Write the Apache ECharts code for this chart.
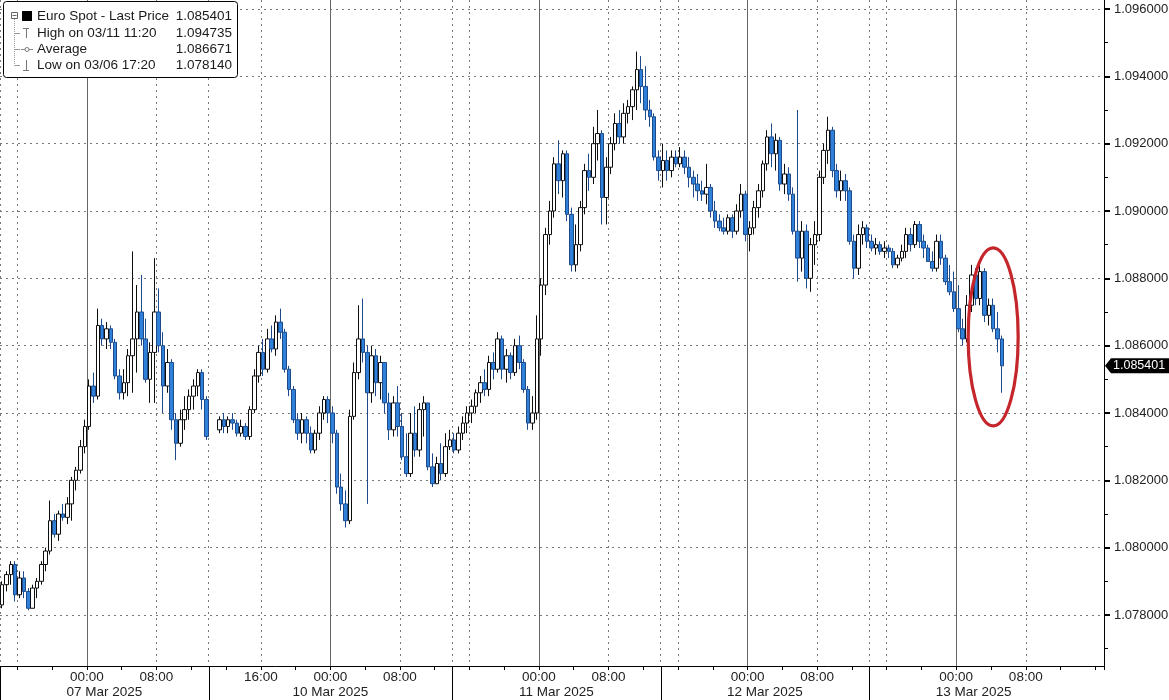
<!DOCTYPE html>
<html><head><meta charset="utf-8">
<script src="https://cdn.jsdelivr.net/npm/echarts@6/dist/echarts.min.js"></script>
<style>html,body{margin:0;padding:0;background:#fff}#c{width:1169px;height:700px}</style>
</head><body><div id="c"></div>
<script>
// 30-minute candles [open, close, low, high], EUR/USD spot
const seg07 = [
[1.0783,1.0789,1.0782,1.0790],[1.0789,1.0792,1.0787,1.0793],[1.0792,1.0795,1.0789,1.0796],[1.0795,1.0786,1.0784,1.0796],
[1.0786,1.0791,1.0785,1.0793],[1.0791,1.0787,1.0785,1.0793],[1.0787,1.0782,1.07814,1.0788],[1.0782,1.0788,1.0782,1.0789],
[1.0788,1.0790,1.0785,1.0791],[1.0790,1.0795,1.0789,1.0796],[1.0795,1.0799,1.0793,1.0800],[1.0799,1.0808,1.0798,1.0814],
[1.0808,1.0804,1.0803,1.0810],[1.0804,1.0810,1.0802,1.0811],[1.0810,1.0809,1.0808,1.0813],[1.0809,1.0813,1.0807,1.0815],
[1.0813,1.0820,1.0808,1.0821],[1.0820,1.0823,1.0817,1.0824],[1.0823,1.0830,1.0822,1.0832],[1.0830,1.0836,1.0828,1.0838],
[1.0836,1.0848,1.0835,1.0850],[1.0848,1.0845,1.0843,1.0852],[1.0845,1.0866,1.0844,1.0871],[1.0866,1.0862,1.0860,1.0868],
[1.0862,1.0865,1.0859,1.0867],[1.0865,1.0861,1.0859,1.0866],[1.0861,1.0851,1.0850,1.0862],[1.0851,1.0846,1.0844,1.0853],
[1.0846,1.0849,1.0844,1.0853],[1.0849,1.0857,1.0845,1.0859],[1.0857,1.0862,1.0846,1.0888],[1.0862,1.0870,1.0852,1.0878],
[1.0870,1.0862,1.0860,1.0881],[1.0862,1.0850,1.0849,1.0868],[1.0850,1.0858,1.0843,1.0861],[1.0858,1.0870,1.0843,1.0886],
[1.0870,1.0860,1.0858,1.0877],[1.0860,1.0848,1.0840,1.0864],[1.0848,1.0855,1.0846,1.0859],[1.0855,1.0838,1.0835,1.0856],
[1.0838,1.0831,1.0826,1.0840],[1.0831,1.0838,1.0830,1.0841],[1.0838,1.0841,1.0835,1.0845],[1.0841,1.0845,1.0838,1.0847],
[1.0845,1.0848,1.0841,1.0850],[1.0848,1.0852,1.0845,1.0853],[1.0852,1.0844,1.0841,1.0853],[1.0844,1.0833,1.0832,1.0845]
];
const seg10 = [
[1.0835,1.0838,1.0834,1.0839],[1.0838,1.0836,1.0834,1.0840],[1.0836,1.0838,1.0834,1.0839],[1.0838,1.0837,1.0835,1.0840],
[1.0837,1.0834,1.0833,1.0838],[1.0834,1.0836,1.0833,1.0838],[1.0836,1.0833,1.0832,1.0837],[1.0833,1.0841,1.0832,1.0842],
[1.0841,1.0851,1.0840,1.0853],[1.0851,1.0858,1.0849,1.0860],[1.0858,1.0853,1.0851,1.0862],[1.0853,1.0862,1.0852,1.0865],
[1.0862,1.0859,1.0858,1.0866],[1.0859,1.0867,1.0857,1.0869],[1.0867,1.0864,1.0862,1.0871],[1.0864,1.0853,1.0852,1.0865],
[1.0853,1.0847,1.0845,1.0854],[1.0847,1.0838,1.0837,1.0848],[1.0838,1.0834,1.0832,1.0840],[1.0834,1.0838,1.0831,1.0840],
[1.0838,1.0834,1.0831,1.0839],[1.0834,1.0829,1.0828,1.0836],[1.0829,1.0834,1.0828,1.0835],[1.0834,1.0840,1.0832,1.0842],
[1.0840,1.0844,1.0838,1.0845],[1.0844,1.0840,1.0837,1.0845],[1.0840,1.0834,1.0831,1.0842],[1.0834,1.0818,1.0816,1.0835],
[1.0818,1.0813,1.0811,1.0822],[1.0813,1.0808,1.0806,1.0817],[1.0808,1.0839,1.0807,1.0841],[1.0839,1.0852,1.0838,1.0855],
[1.0852,1.0862,1.0850,1.0872],[1.0862,1.0858,1.0855,1.0874],[1.0858,1.0846,1.0813,1.0860],[1.0846,1.0857,1.0843,1.0860],
[1.0857,1.0849,1.0845,1.0859],[1.0849,1.0855,1.0844,1.0857],[1.0855,1.0843,1.0840,1.0855],[1.0843,1.0835,1.0832,1.0846],
[1.0835,1.0843,1.0833,1.0845],[1.0843,1.0836,1.0833,1.0848],[1.0836,1.0827,1.0826,1.0840],[1.0827,1.0822,1.0821,1.0834],
[1.0822,1.0834,1.0821,1.0840],[1.0834,1.0829,1.0827,1.0842],[1.0829,1.0841,1.0827,1.0843],[1.0841,1.0843,1.0833,1.0845],
[1.0843,1.0824,1.0823,1.0843],[1.0824,1.0819,1.0818,1.0828],[1.0819,1.0825,1.0819,1.0827],[1.0825,1.0822,1.0820,1.0831],
[1.0822,1.0830,1.0821,1.0834],[1.0830,1.0832,1.0829,1.0835]
];
const seg11 = [
[1.0832,1.0829,1.0828,1.0834],[1.0829,1.0834,1.0828,1.0836],[1.0834,1.0837,1.0832,1.0839],[1.0837,1.0840,1.0834,1.0842],
[1.0840,1.0842,1.0837,1.0844],[1.0842,1.0846,1.0840,1.0847],[1.0846,1.0849,1.0843,1.0851],[1.0849,1.0847,1.0845,1.0853],
[1.0847,1.0855,1.0845,1.0857],[1.0855,1.0853,1.0850,1.0858],[1.0853,1.0862,1.0852,1.0864],[1.0862,1.0853,1.0850,1.0863],
[1.0853,1.0857,1.0849,1.0859],[1.0857,1.0852,1.0850,1.0858],[1.0852,1.0860,1.0851,1.0862],[1.0860,1.0855,1.0853,1.0863],
[1.0855,1.0847,1.0846,1.0856],[1.0847,1.0837,1.0835,1.0848],[1.0837,1.0840,1.0835,1.0845],[1.0840,1.0862,1.0838,1.0869],
[1.0862,1.0878,1.0857,1.0880],[1.0878,1.0893,1.0875,1.0895],[1.0893,1.0900,1.0890,1.0903],[1.0900,1.0914,1.0898,1.0916],
[1.0914,1.0909,1.0905,1.0921],[1.0909,1.0917,1.0904,1.0918],[1.0917,1.0899,1.0897,1.0918],[1.0899,1.0884,1.0882,1.0901],
[1.0884,1.0890,1.0882,1.0896],[1.0890,1.0901,1.0888,1.0903],[1.0901,1.0912,1.0899,1.0914],[1.0912,1.0910,1.0906,1.0917],
[1.0910,1.0920,1.0908,1.0925],[1.0920,1.0923,1.0915,1.0930],[1.0923,1.0904,1.0896,1.0924],[1.0904,1.0913,1.0896,1.0916],
[1.0913,1.0920,1.0911,1.0922],[1.0920,1.0926,1.0918,1.0929],[1.0926,1.0922,1.0920,1.0930],[1.0922,1.0929,1.0920,1.0932],
[1.0929,1.0931,1.0926,1.0933],[1.0931,1.0936,1.0927,1.0937],[1.0936,1.0942,1.0930,1.094735],[1.0942,1.0937,1.0932,1.0946],
[1.0937,1.0930,1.0927,1.0943],[1.0930,1.0928,1.0925,1.0933],[1.0928,1.0916,1.0915,1.0929],[1.0916,1.0912,1.0909,1.0918]
];
const seg12 = [
[1.0912,1.0915,1.0907,1.0920],[1.0915,1.0912,1.0909,1.0918],[1.0912,1.0916,1.0910,1.0918],[1.0916,1.0914,1.0913,1.0918],
[1.0914,1.0916,1.0913,1.0919],[1.0916,1.0913,1.0911,1.0918],[1.0913,1.0910,1.0907,1.0916],[1.0910,1.0908,1.0904,1.0912],
[1.0908,1.0906,1.0903,1.0911],[1.0906,1.0905,1.0903,1.0909],[1.0905,1.0907,1.0902,1.0914],[1.0907,1.0900,1.0898,1.0908],
[1.0900,1.0897,1.0895,1.0903],[1.0897,1.0895,1.0894,1.0899],[1.0895,1.0894,1.0893,1.0898],[1.0894,1.0898,1.0893,1.0899],
[1.0898,1.0894,1.0892,1.0899],[1.0894,1.0900,1.0893,1.0902],[1.0900,1.0905,1.0898,1.0908],[1.0905,1.0893,1.0891,1.0906],
[1.0893,1.0895,1.0888,1.0897],[1.0895,1.0901,1.0893,1.0903],[1.0901,1.0906,1.0898,1.0908],[1.0906,1.0914,1.0904,1.0915],
[1.0914,1.0922,1.0912,1.0924],[1.0922,1.0917,1.0913,1.0926],[1.0917,1.0921,1.0912,1.0923],[1.0921,1.0908,1.0906,1.0922],
[1.0908,1.0911,1.0905,1.0914],[1.0911,1.0905,1.0903,1.0913],[1.0905,1.0894,1.0893,1.0907],[1.0894,1.0886,1.0879,1.0930],
[1.0886,1.0894,1.0882,1.0897],[1.0894,1.0880,1.0877,1.0896],[1.0880,1.0890,1.0876,1.0892],[1.0890,1.0893,1.0884,1.0897],
[1.0893,1.0910,1.0891,1.0912],[1.0910,1.0918,1.0908,1.0920],[1.0918,1.0924,1.0914,1.0928],[1.0924,1.0912,1.0910,1.0925],
[1.0912,1.0906,1.0904,1.0914],[1.0906,1.0909,1.0903,1.0912],[1.0909,1.0906,1.0903,1.0911],[1.0906,1.0891,1.0890,1.0907],
[1.0891,1.0883,1.0880,1.0893],[1.0883,1.0893,1.0881,1.0896],[1.0893,1.0895,1.0890,1.0897],[1.0895,1.0891,1.0889,1.0896]
];
const seg13 = [
[1.0891,1.0889,1.0888,1.0893],[1.0889,1.0890,1.0887,1.0892],[1.0890,1.0888,1.0887,1.0891],[1.0888,1.0889,1.0886,1.0891],
[1.0889,1.0888,1.0886,1.0890],[1.0888,1.0884,1.0883,1.0889],[1.0884,1.0886,1.0883,1.0887],[1.0886,1.0888,1.0885,1.0890],
[1.0888,1.0893,1.0886,1.0895],[1.0893,1.0890,1.0888,1.0895],[1.0890,1.0896,1.0889,1.0897],[1.0896,1.0891,1.0889,1.0897],
[1.0891,1.0889,1.0886,1.0893],[1.0889,1.0885,1.0885,1.0890],[1.0885,1.0883,1.0882,1.0888],[1.0883,1.0891,1.0882,1.0893],
[1.0891,1.0886,1.0884,1.0893],[1.0886,1.0879,1.0878,1.0887],[1.0879,1.0876,1.0875,1.0884],[1.0876,1.0871,1.0870,1.0882],
[1.0871,1.0865,1.0864,1.0878],[1.0865,1.0862,1.0860,1.0868],[1.0862,1.0872,1.0861,1.0875],[1.0872,1.0881,1.0870,1.0884],
[1.0881,1.0874,1.0872,1.0883],[1.0874,1.0882,1.0872,1.0884],[1.0882,1.0869,1.0867,1.0883],[1.0869,1.0872,1.0866,1.0874],
[1.0872,1.0865,1.0864,1.0874],[1.0865,1.0862,1.0858,1.0870],[1.0862,1.085401,1.0846,1.0863]
];
const weekendGapSlots = 2;      // empty 30-min slots between Friday close and Sunday open
const slotCount = 254;          // 30-min slots shown on the axis

const yMajorTicks = [1.078,1.080,1.082,1.084,1.086,1.088,1.090,1.092,1.094,1.096];
const yMinorTicks = [1.077,1.079,1.081,1.083,1.085,1.087,1.089,1.091,1.093,1.095];
const timeLabels = {20:'00:00',36:'08:00',60:'16:00',76:'00:00',92:'08:00',124:'00:00',140:'08:00',172:'00:00',188:'08:00',220:'00:00',236:'08:00'};
const dateLabels = {24:'07 Mar 2025',76:'10 Mar 2025',128:'11 Mar 2025',176:'12 Mar 2025',224:'13 Mar 2025'};
const dottedLines = [0,4,36,48,60,92,104,108,140,152,156,188,200,204,236];
const midnightLines = [20,76,124,172,220];
const sessionBreaks = [0,48,104,152,200];
const lastPrice = 1.085401;
const legendRows = [
  ['Euro Spot - Last Price','1.085401'],
  ['High on 03/11 11:20','1.094735'],
  ['Average','1.086671'],
  ['Low on 03/06 17:20','1.078140']
];

const gap = Array.from({length: weekendGapSlots}, () => ['-','-','-','-']);
const candles = [...seg07, ...gap, ...seg10, ...seg11, ...seg12, ...seg13];
const cats = Array.from({length: slotCount}, (_, i) => String(i));
const dottedSet = new Set(dottedLines);
const midSet = new Set(midnightLines);

const FONT = 'Liberation Sans';
const chart = echarts.init(document.getElementById('c'), null, {renderer: 'canvas'});
const grid = {left: 0, right: 65, top: 0, bottom: 34, containLabel: false, outerBoundsMode: 'none'};
const yMin = 1.076485, yMax = 1.096267;

chart.setOption({
  animation: false,
  backgroundColor: '#fff',
  textStyle: {fontFamily: FONT},
  grid: grid,
  xAxis: [
    {type: 'category', data: cats, boundaryGap: true, position: 'bottom',
     axisLine: {show: true, lineStyle: {color: '#000', width: 1}},
     axisTick: {show: true, interval: (i) => i % 8 === 4, length: 4, lineStyle: {color: '#000'}},
     axisLabel: {show: true, interval: (i) => (i in timeLabels), formatter: (v, i) => timeLabels[i] || '',
                 color: '#222', fontSize: 13.5, fontFamily: FONT, margin: 4, padding: [0, 4.35, 0, 0]},
     splitLine: {show: true, interval: (i) => dottedSet.has(i), lineStyle: {type: [2, 4], color: '#777', width: 1}}},
    {type: 'category', data: cats, boundaryGap: true, position: 'bottom',
     axisLine: {show: false}, axisTick: {show: false},
     axisLabel: {show: true, interval: (i) => (i in dateLabels), formatter: (v, i) => dateLabels[i] || '',
                 color: '#222', fontSize: 13.5, fontFamily: FONT, margin: 19, padding: [0, 4.35, 0, 0]},
     splitLine: {show: false}},
    {type: 'category', data: cats, boundaryGap: true, position: 'bottom',
     axisLine: {show: false}, axisTick: {show: false}, axisLabel: {show: false},
     splitLine: {show: true, interval: (i) => midSet.has(i), lineStyle: {type: 'solid', color: '#666', width: 1}}}
  ],
  yAxis: [
    {type: 'value', position: 'right', min: yMin, max: yMax,
     axisLine: {show: true, lineStyle: {color: '#000', width: 1}},
     axisTick: {show: true, customValues: yMajorTicks, length: 6, lineStyle: {color: '#000', width: 2}},
     axisLabel: {show: true, customValues: yMajorTicks, formatter: (v) => v.toFixed(6), color: '#222',
                 fontSize: 13, fontFamily: FONT, margin: 10},
     splitLine: {show: true, lineStyle: {type: [2, 4], color: '#777', width: 1}}},
    {type: 'value', position: 'right', min: yMin, max: yMax,
     axisLine: {show: false},
     axisTick: {show: true, customValues: yMinorTicks, length: 4, lineStyle: {color: '#000', width: 1}},
     axisLabel: {show: false}, splitLine: {show: false}}
  ],
  series: [{
    type: 'candlestick', name: 'Euro Spot', xAxisIndex: 0, yAxisIndex: 0,
    data: candles, barWidth: 4, large: false,
    itemStyle: {color: '#ffffff', color0: '#2f80d8', borderColor: '#0d0d0d', borderColor0: '#1c4a8a', borderWidth: 1}
  }]
});

// Overlay graphics positioned through the chart's own scales
const px = (i) => chart.convertToPixel({xAxisIndex: 0}, i);
const band = px(1) - px(0);
const yPx = (v) => chart.convertToPixel({yAxisIndex: 0}, v);
const axisY = 700 - grid.bottom;
const g = [];

sessionBreaks.forEach((i) => {
  const x = Math.max(0.5, Math.round(px(i) - band / 2) + 0.5);
  g.push({type: 'line', shape: {x1: x, y1: axisY, x2: x, y2: 700}, style: {stroke: '#000', lineWidth: 1}, z: 50});
});

// last price tag
const ly = yPx(lastPrice);
const ax = 1169 - grid.right;
g.push({type: 'polygon', shape: {points: [[ax + 1, ly], [ax + 7, ly - 7.5], [1169, ly - 7.5], [1169, ly + 7.5], [ax + 7, ly + 7.5]]},
        style: {fill: '#000'}, z: 60});
g.push({type: 'text', x: ax + 9, y: ly, style: {text: lastPrice.toFixed(6), fill: '#fff', font: '12.5px ' + FONT, textVerticalAlign: 'middle', verticalAlign: 'middle'}, z: 61});

// red ellipse annotation around the latest move
const ec = chart.convertToPixel({xAxisIndex: 0, yAxisIndex: 0}, [228, 1.08626]);
g.push({type: 'ellipse', shape: {cx: ec[0], cy: ec[1], rx: 25, ry: 89}, style: {fill: 'none', stroke: '#c4262b', lineWidth: 3.2}, z: 70});

// legend box
g.push({type: 'rect', shape: {x: 3.5, y: 1.5, width: 234, height: 76, r: 3}, style: {fill: '#fff', stroke: '#000', lineWidth: 1}, z: 80});
const rowY = [16, 33, 49, 65];
legendRows.forEach((r, k) => {
  g.push({type: 'text', x: 37, y: rowY[k], style: {text: r[0], fill: '#1a1a1a', font: '13.5px ' + FONT, verticalAlign: 'middle', textVerticalAlign: 'middle'}, z: 81});
  g.push({type: 'text', x: 232, y: rowY[k], style: {text: r[1], fill: '#1a1a1a', font: '13.5px ' + FONT, align: 'right', textAlign: 'right', verticalAlign: 'middle', textVerticalAlign: 'middle'}, z: 81});
});
// tree & icons
g.push({type: 'rect', shape: {x: 11.5, y: 12.5, width: 6, height: 6}, style: {fill: '#fff', stroke: '#666', lineWidth: 1}, z: 82});
g.push({type: 'line', shape: {x1: 12.5, y1: 15.5, x2: 16.5, y2: 15.5}, style: {stroke: '#666', lineWidth: 1}, z: 82});
g.push({type: 'rect', shape: {x: 22, y: 11, width: 10, height: 10}, style: {fill: '#000'}, z: 82});
g.push({type: 'line', shape: {x1: 14.5, y1: 19, x2: 14.5, y2: 65.5}, style: {stroke: '#999', lineWidth: 1, lineDash: [1, 1]}, z: 82});
[33.5, 49.5, 65.5].forEach((y) => g.push({type: 'line', shape: {x1: 14.5, y1: y, x2: 20, y2: y}, style: {stroke: '#999', lineWidth: 1}, z: 82}));
g.push({type: 'line', shape: {x1: 23, y1: 28.5, x2: 29, y2: 28.5}, style: {stroke: '#777', lineWidth: 1}, z: 82});
g.push({type: 'line', shape: {x1: 26.5, y1: 28.5, x2: 26.5, y2: 38}, style: {stroke: '#777', lineWidth: 1}, z: 82});
g.push({type: 'line', shape: {x1: 21, y1: 49.5, x2: 33, y2: 49.5}, style: {stroke: '#888', lineWidth: 1}, z: 82});
g.push({type: 'circle', shape: {cx: 27, cy: 49.5, r: 2}, style: {fill: '#fff', stroke: '#777', lineWidth: 1}, z: 83});
g.push({type: 'line', shape: {x1: 26.5, y1: 60, x2: 26.5, y2: 70.5}, style: {stroke: '#777', lineWidth: 1}, z: 82});
g.push({type: 'line', shape: {x1: 23, y1: 70.5, x2: 29, y2: 70.5}, style: {stroke: '#777', lineWidth: 1}, z: 82});

chart.setOption({graphic: g});
</script></body></html>
